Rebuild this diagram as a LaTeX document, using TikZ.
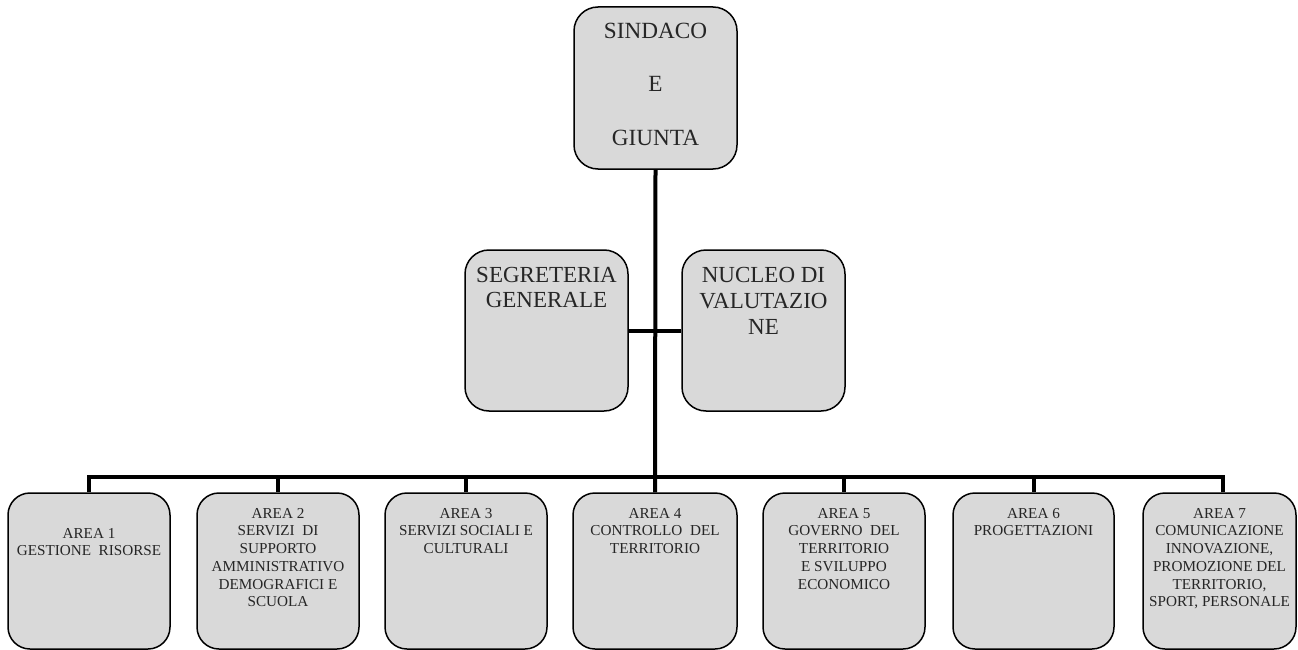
\documentclass[tikz,border=0pt]{standalone}
\usepackage{fontspec}
\setmainfont{Liberation Serif}
\definecolor{boxfill}{HTML}{D9D9D9}
\definecolor{txt}{HTML}{262626}
\begin{document}
\begin{tikzpicture}[x=1pt,y=-1pt,
  box/.style={draw=black, line width=1.5pt, fill=boxfill, rounded corners=24pt, inner sep=0pt},
  topbox/.style={box, minimum width=163pt, minimum height=162pt},
  midbox/.style={box, minimum width=163pt, minimum height=161pt},
  areabox/.style={box, rounded corners=22pt, minimum height=156pt},
  bigtext/.style={anchor=north, align=center, inner sep=0pt, text=txt},
  smalltext/.style={anchor=north, align=center, inner sep=0pt, text=txt, font=\fontsize{15.2}{17.7}\selectfont},
  link/.style={draw=black, line width=4pt}]
\useasboundingbox (0,0) rectangle (1298,650);
\fill[white] (0,0) rectangle (1298,650);

% boxes
\node[topbox] (top) at (655.5,88) {};
\node[midbox] (seg) at (546.5,330.5) {};
\node[midbox] (nuc) at (763.5,330.5) {};
\node[areabox, minimum width=162pt] (b1) at (89,571) {};
\node[areabox, minimum width=162pt] (b2) at (278,571) {};
\node[areabox, minimum width=162pt] (b3) at (466,571) {};
\node[areabox, minimum width=164pt] (b4) at (655,571) {};
\node[areabox, minimum width=162pt] (b5) at (844,571) {};
\node[areabox, minimum width=161pt] (b6) at (1033.5,571) {};
\node[areabox, minimum width=153pt] (b7) at (1219.5,571) {};

% connectors
\coordinate (bar) at (655,477);
\draw[link] (top.south) -- (b4.north);
\draw[link] (seg.east) -- (nuc.west);
\draw[link, line cap=rect] (b1.north |- bar) -- ([xshift=3pt]b7.north |- bar);
\foreach \b in {b1,b2,b3,b5,b6} {
  \draw[link] (\b.north) -- (\b.north |- bar);
}
\draw[link] ([xshift=3pt]b7.north) -- ([xshift=3pt]b7.north |- bar);

% texts
\node[bigtext, font=\fontsize{23.2}{53.5}\selectfont] (ttop) at (655.5,22.5) {SINDACO\\E\\GIUNTA};
\node[bigtext, font=\fontsize{23}{25}\selectfont] (tseg) at (546.5,267.5) {SEGRETERIA\\GENERALE};
\node[bigtext, font=\fontsize{23}{26}\selectfont] (tnuc) at (763.5,267.5) {NUCLEO DI\\VALUTAZIO\\NE};

\node[smalltext] (t1) at (89,528) {AREA 1\\GESTIONE\ \ RISORSE};
\node[smalltext] (t2) at (278,508) {AREA 2\\SERVIZI\ \ DI\\SUPPORTO\\AMMINISTRATIVO\\DEMOGRAFICI E\\SCUOLA};
\node[smalltext] (t3) at (466,508) {AREA 3\\SERVIZI SOCIALI E\\CULTURALI};
\node[smalltext] (t4) at (655,508) {AREA 4\\CONTROLLO\ \ DEL\\TERRITORIO};
\node[smalltext] (t5) at (844,508) {AREA 5\\GOVERNO\ \ DEL\\TERRITORIO\\E SVILUPPO\\ECONOMICO};
\node[smalltext] (t6) at (1033.5,508) {AREA 6\\PROGETTAZIONI};
\node[smalltext] (t7) at (1219.5,508) {AREA 7\\COMUNICAZIONE\\INNOVAZIONE,\\PROMOZIONE DEL\\TERRITORIO,\\SPORT, PERSONALE};
\end{tikzpicture}
\end{document}
